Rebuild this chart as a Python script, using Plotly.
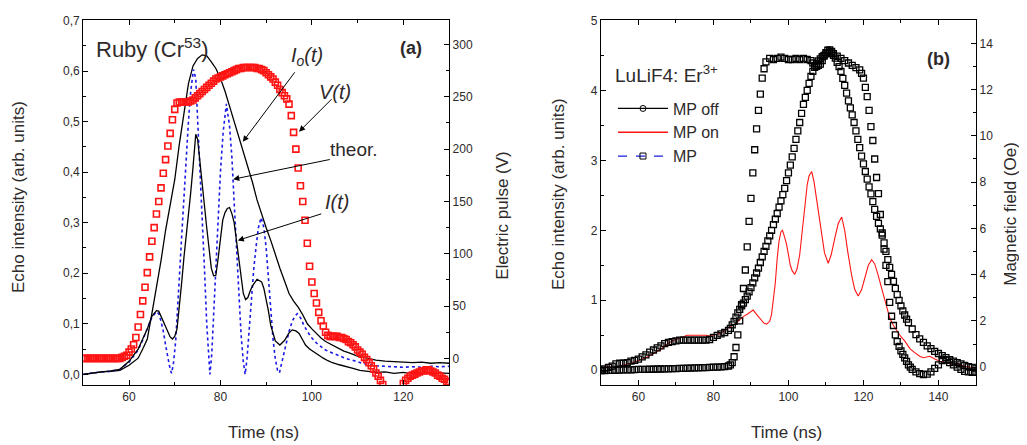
import plotly.graph_objects as go

# ---------------- panel (a): Ruby (Cr53) ----------------
# electric pulse V(t), right axis (V)
a_pulse_t = [50.0, 50.5, 51.0, 51.5, 52.0, 52.5, 53.0, 53.5, 54.0, 54.5,
             55.0, 55.5, 56.0, 56.5, 57.0, 57.5, 58.0, 58.5, 59.0, 59.5,
             60.0, 60.5, 61.0, 61.5, 62.0, 62.5, 63.0, 63.5, 64.0, 64.5,
             65.0, 65.5, 66.0, 66.5, 67.0, 67.5, 68.0, 68.5, 69.0, 69.5,
             70.0, 70.5, 71.0, 71.5, 72.0, 72.5, 73.0, 73.5, 74.0, 74.5,
             75.0, 75.5, 76.0, 76.5, 77.0, 77.5, 78.0, 78.5, 79.0, 79.5,
             80.0, 80.5, 81.0, 81.5, 82.0, 82.5, 83.0, 83.5, 84.0, 84.5,
             85.0, 85.5, 86.0, 86.5, 87.0, 87.5, 88.0, 88.5, 89.0, 89.5,
             90.0, 90.5, 91.0, 91.5, 92.0, 92.5, 93.0, 93.5, 94.0, 94.5,
             95.0, 95.5, 96.0, 96.5, 97.0, 97.5, 98.0, 98.5, 99.0, 99.5,
             100.0, 100.5, 101.0, 101.5, 102.0, 102.5, 103.0, 103.5, 104.0, 104.5,
             105.0, 105.5, 106.0, 106.5, 107.0, 107.5, 108.0, 108.5, 109.0, 109.5,
             110.0, 110.5, 111.0, 111.5, 112.0, 112.5, 113.0, 113.5, 114.0, 114.5,
             115.0, 115.5, 116.0, 116.5, 117.0, 117.5, 118.0, 118.5, 119.0, 119.5,
             120.0, 120.5, 121.0, 121.5, 122.0, 122.5, 123.0, 123.5, 124.0, 124.5,
             125.0, 125.5, 126.0, 126.5, 127.0, 127.5, 128.0, 128.5, 129.0, 129.5,
             130.0]
a_pulse_v = [0, 0, 0, 0, 0, 0, 0, 0, 0, 0,
             0, 0, 0, 0, 0, 0, 0, 1, 2, 3,
             6, 9, 13, 20, 30, 42, 55, 68, 82, 97,
             112, 125, 138, 150, 163, 177, 190, 203, 215, 228,
             238, 244, 245, 245, 245, 245, 245, 246, 247, 249,
             251, 253, 255, 257, 259, 261, 263, 265, 267, 268,
             269, 270, 271, 272, 273, 274, 275, 276, 277, 277,
             278, 278, 278, 278, 278, 278, 277, 277, 276, 275,
             273, 271, 269, 267, 264, 261, 257, 254, 251, 248,
             243, 232, 216, 200, 182, 165, 150, 132, 110, 88,
             73, 62, 53, 44, 36, 31, 25, 22, 21, 21,
             21, 21, 20, 20, 19, 18, 16, 15, 13, 11,
             8, 6, 4, 1, -1, -4, -7, -10, -14, -17,
             -21, -25, -29, -33, -36, -39, -41, -40, -35, -29,
             -24, -21, -19, -17, -16, -15, -14, -13, -12, -12,
             -11, -11, -12, -13, -14, -16, -17, -19, -20, -22,
             -23]

# I0(t) echo without pulse, left axis
a_i0_t = [50, 52, 54, 56, 58, 60, 61, 62, 63, 64, 65, 66, 67, 68, 69, 70, 71, 72, 73, 74,
          75, 76, 77, 78, 79, 80, 81, 82, 83, 84, 85, 86, 87, 88, 89, 90, 91, 92, 93, 94,
          95, 96, 97, 98, 99, 100, 101, 102, 103, 104, 105, 106, 107, 108, 109, 110,
          112, 114, 116, 118, 120, 122, 124, 126, 128, 130]
a_i0_v = [0.0, 0.003, 0.005, 0.006, 0.008, 0.018, 0.025, 0.032, 0.05, 0.07, 0.12, 0.17, 0.225,
          0.285, 0.335, 0.385, 0.455, 0.52, 0.575, 0.61,
          0.625, 0.632, 0.63, 0.618, 0.605, 0.585, 0.56, 0.53, 0.5, 0.47, 0.445, 0.41, 0.38,
          0.345, 0.315, 0.29, 0.265, 0.235, 0.21, 0.185,
          0.16, 0.145, 0.133, 0.118, 0.1, 0.09, 0.08, 0.072, 0.065, 0.06, 0.055, 0.05, 0.046,
          0.043, 0.04, 0.036,
          0.032, 0.028, 0.026, 0.025, 0.024, 0.023, 0.024, 0.022, 0.023, 0.022]

# I(t) echo with pulse, left axis
a_i_t = [50, 52, 54, 56, 58, 60, 61, 62, 63, 64, 65, 66, 66.5, 67, 68, 69, 69.5, 70, 70.5, 71,
         71.5, 72, 72.5, 73, 73.5, 74, 74.6, 75, 75.5, 76, 76.5, 77, 77.5, 78, 78.5, 79,
         79.5, 80, 80.5, 81, 81.5, 82, 82.5, 83, 83.5, 84, 84.5, 85, 85.5, 86, 86.5, 87,
         88, 89, 89.5, 90, 90.5, 91, 91.5, 92, 93, 94, 95, 95.7, 96.5, 97.2, 98, 98.6,
         99.5, 100.5, 101.5, 102.5, 103.5, 104.5, 106, 107.5, 109, 110.5, 112, 114, 116,
         118, 120, 122, 124, 126, 128, 130]
a_i_v = [0.0, 0.003, 0.005, 0.007, 0.01, 0.026, 0.037, 0.05, 0.07, 0.09, 0.115, 0.126, 0.125,
         0.115, 0.092, 0.074, 0.07, 0.075, 0.09, 0.13,
         0.18, 0.23, 0.27, 0.31, 0.36, 0.41, 0.475, 0.465, 0.42, 0.37, 0.33, 0.29, 0.25, 0.21,
         0.195, 0.196,
         0.23, 0.265, 0.305, 0.32, 0.328, 0.33, 0.318, 0.3, 0.265, 0.225, 0.19, 0.16, 0.148,
         0.152, 0.165, 0.175,
         0.188, 0.183, 0.17, 0.15, 0.125, 0.097, 0.08, 0.066, 0.058, 0.067, 0.082, 0.088,
         0.086, 0.081, 0.068, 0.058,
         0.05, 0.044, 0.037, 0.032, 0.027, 0.023, 0.019, 0.016, 0.012, 0.008, 0.006, 0.004,
         0.005, 0.002, 0.004, 0.001, 0.003, 0.002, 0.003, 0.002]

# theoretical curve, left axis
a_th_t = [50, 52, 54, 56, 58, 60, 61, 62, 63, 64, 65, 66, 66.5, 67, 67.5, 68, 68.5, 69, 69.3,
          69.7, 70.2, 70.6, 71, 71.5, 72, 72.5, 73, 73.5, 74.1, 74.6, 75, 75.5, 76, 76.5,
          77, 77.4, 77.7, 78.1, 78.5, 79, 79.5, 80, 80.6, 81.3, 82, 82.5, 83, 83.5, 84,
          84.5, 85, 85.4, 85.8, 86.3, 86.7, 87.3, 87.8, 88.3, 88.9, 89.5, 90, 90.5, 91,
          91.5, 92, 92.5, 92.9, 93.5, 94.3, 95, 95.7, 96.3, 96.8, 97.5, 98.2, 99, 100,
          101, 102, 103, 104, 105, 106, 107, 108, 109, 110, 111, 112, 114, 116, 118, 120,
          122, 124, 126, 128, 130]
a_th_v = [0.0, 0.003, 0.005, 0.006, 0.01, 0.024, 0.035, 0.048, 0.068, 0.09, 0.113, 0.124,
          0.12, 0.105, 0.085, 0.058, 0.03, 0.01, 0.002,
          0.02, 0.065, 0.12, 0.19, 0.27, 0.35, 0.43, 0.5, 0.56, 0.603, 0.585, 0.51, 0.41,
          0.32, 0.21,
          0.1, 0.03, 0.0, 0.04, 0.12, 0.22, 0.31, 0.4, 0.48, 0.535, 0.49, 0.43, 0.34, 0.25,
          0.16,
          0.08, 0.025, 0.0, 0.03, 0.09, 0.143, 0.21, 0.253, 0.29, 0.31, 0.29, 0.25, 0.19,
          0.13,
          0.07, 0.03, 0.008, 0.003, 0.025, 0.06, 0.085, 0.105, 0.115, 0.12, 0.112, 0.098,
          0.085, 0.072,
          0.062, 0.055, 0.048, 0.044, 0.04, 0.036, 0.033, 0.03, 0.028, 0.025, 0.022, 0.02,
          0.017, 0.016, 0.015, 0.014,
          0.015, 0.014, 0.016, 0.015, 0.016]

# ---------------- panel (b): LuLiF4: Er3+ ----------------
# MP off, left axis
b_off_t = [50, 51, 52, 53, 54, 55, 56, 57, 58, 59, 60, 61, 62, 63, 64, 65, 66, 67, 68, 69,
           70, 71, 72, 73, 74, 75, 76, 77, 78, 79, 80, 81, 82, 83,
           84.0, 84.5, 85.0, 85.5, 86.0, 86.5, 87.0, 87.5, 88.0, 88.5,
           89.0, 89.5, 90.0, 90.5, 91.0, 91.5, 92.0, 92.5, 93.0, 93.5,
           94.0, 94.5, 95.0, 95.5, 96.0, 96.5, 97.0, 97.5, 98.0, 98.5,
           99.0, 99.5, 100.0, 100.5, 101.0, 101.5, 102.0, 102.5, 103.0, 103.5,
           104.0, 104.5, 105.0, 105.5, 106.0, 106.5, 107.0, 107.5, 108.0, 108.5,
           109.0, 109.5, 110.0, 110.5, 111.0, 111.5, 112.0, 112.5, 113.0, 113.5,
           114.0, 114.5, 115.0, 115.5, 116.0, 116.5, 117.0, 117.5, 118.0, 118.5,
           119.0, 119.5, 120.0, 120.5, 121.0, 121.5, 122.0, 122.5, 123.0, 123.5,
           124.0, 124.5, 125.0, 125.5, 126.0, 126.5, 127.0, 127.5, 128.0, 128.5,
           129.0, 129.5, 130.0, 130.5, 131.0, 131.5, 132.0,
           133, 134, 135, 136, 137, 138, 139, 140, 141, 142, 143, 144, 145, 146, 147, 148,
           149, 150]
b_off_v = [0.0, 0.02, 0.04, 0.06, 0.09, 0.1, 0.1, 0.11, 0.13, 0.14, 0.16, 0.19, 0.22, 0.26,
           0.29, 0.32, 0.35, 0.38, 0.4, 0.41,
           0.42, 0.43, 0.43, 0.43, 0.43, 0.43, 0.43, 0.43, 0.43, 0.44, 0.47, 0.5, 0.52, 0.54,
           0.57, 0.6, 0.65, 0.7, 0.76, 0.82, 0.87, 0.92, 0.96, 1.01,
           1.06, 1.12, 1.18, 1.25, 1.32, 1.39, 1.46, 1.54, 1.62, 1.7,
           1.77, 1.85, 1.92, 2.0, 2.08, 2.16, 2.24, 2.33, 2.42, 2.51,
           2.6, 2.71, 2.82, 2.93, 3.05, 3.17, 3.3, 3.42, 3.54, 3.67,
           3.8, 3.9, 4.0, 4.1, 4.2, 4.27, 4.33, 4.38, 4.42, 4.45,
           4.48, 4.5, 4.52, 4.54, 4.55, 4.53, 4.5, 4.46, 4.4, 4.34,
           4.27, 4.17, 4.07, 3.96, 3.85, 3.75, 3.65, 3.54, 3.42, 3.3,
           3.18, 3.06, 2.95, 2.84, 2.73, 2.62, 2.52, 2.41, 2.3, 2.2,
           2.1, 2.02, 1.93, 1.82, 1.7, 1.58, 1.47, 1.37, 1.27, 1.17,
           1.08, 1.0, 0.92, 0.85, 0.79, 0.73, 0.68,
           0.59, 0.51, 0.45, 0.4, 0.35, 0.31, 0.27, 0.24, 0.21, 0.18, 0.15, 0.13, 0.11, 0.09,
           0.07, 0.05, 0.04, 0.03]

# MP on, left axis
b_on_t = [50, 51, 52, 53, 54, 55, 56, 57, 58, 59, 60, 61, 62, 63, 64, 65, 66, 67, 68, 69,
          70, 71, 72, 73, 74, 75, 76, 77, 78, 79, 80, 81, 82, 83, 84, 85, 86, 87, 88, 89,
          90, 90.6, 91.5, 92.5, 93.5, 94.2, 95, 95.5, 96, 96.5, 97, 97.5, 98, 98.4, 99,
          99.5, 100, 100.5, 101, 101.7, 102.3, 103, 103.5, 104, 104.5, 105, 105.5, 106.2,
          106.8, 107.5, 108.2, 108.9, 109.6, 110.6, 111.4, 112.4, 113.3, 114.2, 115,
          115.8, 116.9, 117.7, 118.6, 119.5, 120.4, 121.3, 122.2, 123, 123.8, 124.9,
          126.2, 127, 128, 129, 130, 131, 132.4, 133.5, 135, 136, 137.7, 139, 140.4, 142,
          144, 145, 146.6, 148, 149.3, 150]
b_on_v = [0.03, 0.05, 0.05, 0.05, 0.04, 0.06, 0.08, 0.09, 0.1, 0.12, 0.13, 0.15, 0.18, 0.21,
          0.24, 0.26, 0.3, 0.35, 0.39, 0.42,
          0.44, 0.46, 0.48, 0.5, 0.5, 0.5, 0.51, 0.5, 0.5, 0.49, 0.5, 0.51, 0.53, 0.57, 0.6,
          0.63, 0.67, 0.72, 0.77, 0.8,
          0.84, 0.86, 0.8, 0.73, 0.67, 0.66, 0.7, 0.8, 1.0, 1.25, 1.6, 1.85, 1.98, 2.0, 1.9,
          1.8, 1.65, 1.5, 1.42, 1.37, 1.45, 1.65, 1.9, 2.14, 2.4, 2.65, 2.78, 2.84,
          2.7, 2.45, 2.15, 1.9, 1.68, 1.53, 1.65, 1.9, 2.1, 2.19, 2.0,
          1.7, 1.34, 1.15, 1.06, 1.15, 1.34, 1.5, 1.58, 1.52, 1.38, 1.16,
          0.88, 0.75, 0.64, 0.55, 0.48, 0.42, 0.31, 0.26, 0.2, 0.18, 0.2, 0.16, 0.13, 0.11,
          0.08, 0.1, 0.06, 0.05, 0.01, 0.02]

# MP (magnetic pulse), right axis (Oe)
b_mp_t = [50, 51, 52, 53, 54, 55, 56, 57, 58, 59, 60, 61, 62, 63, 64, 65, 66, 67, 68, 69,
          70, 71, 72, 73, 74, 75, 76, 77, 78, 79, 80, 81, 82, 83, 84,
          84.5, 85.0, 85.5, 86.0, 86.5, 87.0, 87.5, 88.0, 88.5, 89.0,
          89.5, 90.0, 90.5, 91.0, 91.5, 92.0, 92.5, 93.0, 93.5, 94.0,
          95, 96, 97, 98, 99, 100, 101, 102, 103, 104, 105, 106,
          106.5, 107.0, 107.5, 108.0, 108.5, 109.0, 109.5, 110.0, 110.5, 111.0, 111.5, 112.0,
          113, 114, 115, 116, 117, 118, 119,
          119.5, 120.0, 120.5, 121.0, 121.5, 122.0, 122.5, 123.0, 123.5, 124.0,
          124.5, 125.0, 125.5, 126.0, 126.5, 127.0, 127.5, 128.0, 128.5, 129.0,
          129.5, 130.0, 130.5, 131.0, 131.5, 132.0, 132.5,
          133, 134, 135, 136, 137, 138, 139, 140, 141, 142, 143, 144, 145, 146, 147, 148,
          149, 150]
b_mp_v = [-0.15, -0.15, -0.14, -0.14, -0.13, -0.13, -0.12, -0.12, -0.12, -0.11,
          -0.1, -0.1, -0.1, -0.09, -0.09, -0.08, -0.08, -0.07, -0.07, -0.06,
          -0.06, -0.05, -0.05, -0.04, -0.04, -0.03, -0.03, -0.02, -0.02, -0.01,
          0.0, 0.0, 0.01, 0.02, 0.05,
          0.1, 0.2, 0.45, 0.85, 1.4, 2.0, 2.7, 3.4, 4.2, 5.2,
          6.3, 7.3, 8.4, 9.4, 10.3, 11.1, 11.8, 12.5, 12.9, 13.2,
          13.35, 13.3, 13.35, 13.4, 13.35, 13.3, 13.3, 13.35, 13.3, 13.35, 13.3, 13.25,
          13.15, 13.05, 13.0, 13.05, 13.1, 13.25, 13.45, 13.6, 13.7, 13.72, 13.65, 13.55,
          13.45, 13.35, 13.25, 13.15, 13.05, 12.95, 12.85,
          12.7, 12.5, 12.1, 11.7, 11.1, 10.4, 9.8, 9.0, 8.2, 7.5,
          6.6, 5.8, 5.1, 4.4, 3.7, 2.8, 2.2, 1.8, 1.4, 1.1,
          0.9, 0.7, 0.55, 0.4, 0.25, 0.1, 0.0,
          -0.1, -0.2, -0.28, -0.32, -0.3, -0.2, -0.05, 0.1, 0.28, 0.32, 0.2, 0.1, 0.0, -0.1,
          -0.18, -0.2, -0.22, -0.22]

FONT = "Arial, Liberation Sans, sans-serif"
TXT = "#2e2a2a"

fig = go.Figure()

# panel (a)
fig.add_trace(go.Scatter(x=a_i0_t, y=a_i0_v, mode="lines", line=dict(color="black", width=1.3),
                         xaxis="x", yaxis="y", showlegend=False))
fig.add_trace(go.Scatter(x=a_th_t, y=a_th_v, mode="lines",
                         line=dict(color="#1a1ae6", width=1.6, dash="dot"),
                         xaxis="x", yaxis="y", showlegend=False))
fig.add_trace(go.Scatter(x=a_i_t, y=a_i_v, mode="lines", line=dict(color="black", width=1.3),
                         xaxis="x", yaxis="y", showlegend=False))
fig.add_trace(go.Scatter(x=a_pulse_t, y=a_pulse_v, mode="markers",
                         marker=dict(symbol="square-open", size=6, color="#ff1414",
                                     line=dict(width=1.6, color="#ff1414")),
                         xaxis="x", yaxis="y2", showlegend=False))

# panel (b)
fig.add_trace(go.Scatter(x=b_on_t, y=b_on_v, mode="lines", line=dict(color="#ff1414", width=1.1),
                         xaxis="x2", yaxis="y3", showlegend=False))
fig.add_trace(go.Scatter(x=b_off_t, y=b_off_v, mode="markers",
                         marker=dict(symbol="square-open", size=6, color="black",
                                     line=dict(width=1.3, color="black")),
                         xaxis="x2", yaxis="y3", showlegend=False))
fig.add_trace(go.Scatter(x=b_mp_t, y=b_mp_v, mode="markers",
                         marker=dict(symbol="square-open", size=6, color="black",
                                     line=dict(width=1.3, color="black")),
                         xaxis="x2", yaxis="y4", showlegend=False))

# legend entries for panel (b)
fig.add_trace(go.Scatter(x=[None], y=[None], mode="lines+markers", name="MP off",
                         line=dict(color="black", width=1.3),
                         marker=dict(symbol="circle-open", size=6, color="black"),
                         xaxis="x2", yaxis="y3"))
fig.add_trace(go.Scatter(x=[None], y=[None], mode="lines", name="MP on",
                         line=dict(color="#ff1414", width=1.3), xaxis="x2", yaxis="y3"))
fig.add_trace(go.Scatter(x=[None], y=[None], mode="lines+markers", name="MP",
                         line=dict(color="#1a1ae6", width=1.3, dash="dash"),
                         marker=dict(symbol="square-open", size=6, color="black"),
                         xaxis="x2", yaxis="y4"))

ax = dict(showline=True, linecolor="black", linewidth=1.3, ticks="inside", ticklen=5,
          tickcolor="black", showgrid=False, zeroline=False, ticklabeloverflow="allow",
          tickfont=dict(family=FONT, size=12, color=TXT))
# the page body adds an 8px offset, so the figure is drawn 8px smaller
ydom = [0.1396, 0.9879]

fig.update_layout(
    width=1019, height=437,
    margin=dict(l=0, r=0, t=0, b=0),
    plot_bgcolor="white", paper_bgcolor="white",
    separators=",.",
    xaxis=dict(domain=[0.0739, 0.4328], range=[50, 130], tick0=0, dtick=20, mirror="ticks",
               minor=dict(dtick=10, ticks="inside", ticklen=3, tickcolor="black"),
               anchor="y", **ax),
    yaxis=dict(domain=ydom, range=[-0.021, 0.7005], dtick=0.1, tickformat=".1f",
               minor=dict(dtick=0.05, ticks="inside", ticklen=3, tickcolor="black"),
               anchor="x", **ax),
    yaxis2=dict(overlaying="y", side="right", anchor="x", range=[-25.4, 323.2], dtick=50,
                minor=dict(dtick=25, ticks="inside", ticklen=3, tickcolor="black"), **ax),
    xaxis2=dict(domain=[0.5819, 0.9499], range=[50, 150], tick0=0, dtick=20, mirror="ticks",
                minor=dict(dtick=10, ticks="inside", ticklen=3, tickcolor="black"),
                anchor="y3", **ax),
    yaxis3=dict(domain=ydom, range=[-0.21, 5.002], dtick=1,
                minor=dict(dtick=0.5, ticks="inside", ticklen=3, tickcolor="black"),
                anchor="x2", **ax),
    yaxis4=dict(overlaying="y3", side="right", anchor="x2", range=[-0.77, 15.0], dtick=2,
                minor=dict(dtick=1, ticks="inside", ticklen=3, tickcolor="black"), **ax),
    legend=dict(x=0.5937, y=0.822, xanchor="left", yanchor="top", bgcolor="rgba(0,0,0,0)",
                font=dict(family=FONT, size=16, color=TXT), itemwidth=50, tracegroupgap=2),
)

ann_font = dict(family=FONT, size=17, color=TXT)
titles = [
    ("Echo intensity (arb. units)", 0.0098, 0.5767, -90),
    ("Electric pulse (V)", 0.4858, 0.5332, -90),
    ("Time (ns)", 0.2512, 0.0297, 0),
    ("Echo intensity (arb. units)", 0.5397, 0.5835, -90),
    ("Magnetic field (Oe)", 0.9843, 0.5378, -90),
    ("Time (ns)", 0.7635, 0.0297, 0),
]
for text, x, y, ang in titles:
    fig.add_annotation(text=text, x=x, y=y, xref="paper", yref="paper", showarrow=False,
                       textangle=ang, font=ann_font, xanchor="center", yanchor="middle")

# labels inside panel (a)
fig.add_annotation(text="Ruby (Cr<sup>53</sup>)", x=52.3, y=0.645, xref="x", yref="y",
                   showarrow=False, xanchor="left", font=dict(family=FONT, size=22, color=TXT))
fig.add_annotation(text="<b>(a)</b>", x=121.6, y=0.645, xref="x", yref="y", showarrow=False,
                   font=dict(family=FONT, size=18, color=TXT))
lab = dict(family=FONT, size=20, color=TXT)
fig.add_annotation(text="<i>I<sub>o</sub>(t)</i>", x=99, y=0.629, xref="x", yref="y",
                   showarrow=False, font=lab)
fig.add_annotation(text="<i>V(t)</i>", x=105, y=0.559, xref="x", yref="y", showarrow=False,
                   font=lab)
fig.add_annotation(text="theor.", x=109.3, y=0.444, xref="x", yref="y", showarrow=False,
                   font=dict(family=FONT, size=19, color=TXT))
fig.add_annotation(text="<i>I(t)</i>", x=105.6, y=0.341, xref="x", yref="y", showarrow=False,
                   font=lab)

# arrows (tip in data coords, tail offset in px)
arrows = [(84.9, 0.46, 53, -71), (97.2, 0.48, 34, -34), (82.8, 0.386, 98, -20),
          (83.8, 0.265, 85, -27)]
for x, y, dx, dy in arrows:
    fig.add_annotation(text="", x=x, y=y, xref="x", yref="y", ax=dx, ay=dy, showarrow=True,
                       arrowhead=2, arrowsize=1.2, arrowwidth=1, arrowcolor="black")

# labels inside panel (b)
fig.add_annotation(text="LuLiF4: Er<sup>3+</sup>", x=53.2, y=4.23, xref="x2", yref="y3",
                   showarrow=False, xanchor="left", font=dict(family=FONT, size=19, color=TXT))
fig.add_annotation(text="<b>(b)</b>", x=139.9, y=4.45, xref="x2", yref="y3", showarrow=False,
                   font=dict(family=FONT, size=18, color=TXT))

fig.write_html("out.html")
